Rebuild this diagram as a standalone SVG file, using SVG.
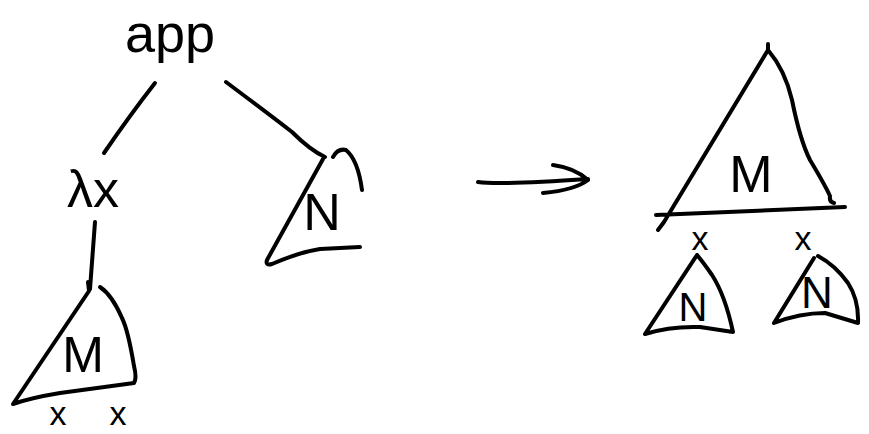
<svg xmlns="http://www.w3.org/2000/svg" width="869" height="434" viewBox="0 0 869 434">
<style>
.s{fill:none;stroke:#000;stroke-width:4;stroke-linecap:round;stroke-linejoin:round}
.t{font-family:"Liberation Sans","DejaVu Sans",sans-serif;fill:#000;text-anchor:middle}
</style>
<rect width="869" height="434" fill="#fff"/>
<g id="app"><text class="t" x="170" y="52" font-size="54">app</text></g>
<g id="lambda"><text class="t" x="93" y="207" font-size="52">λx</text></g>
<g id="M-left">
<path class="s" d="M89,291 L88,282 M89,291 L13,404 Q30,398 60,393 L134,383 Q137,378 134,366 Q128,330 122,318 Q112,295 100,287"/>
<text class="t" x="83" y="372" font-size="50">M</text>
<text class="t" x="58" y="425" font-size="34">x</text>
<text class="t" x="118" y="425" font-size="34">x</text>
</g>
<g id="N-left">
<path class="s" d="M323,159 L267,260 Q265,266 272,264 Q300,252 320,249 L360,247 M333,157 Q338,148 346,150 Q358,160 362,190"/>
<text class="t" x="322" y="230" font-size="52">N</text>
</g>
<g id="M-right">
<path class="s" d="M768,44 L768,50 L664,222 L658,230 M768,50 Q785,70 792,100 Q800,140 810,160 Q825,185 830,196 Q829,202 834,203 M656,215 L845,207"/>
<text class="t" x="751" y="192" font-size="52">M</text>
<text class="t" x="700" y="250" font-size="34">x</text>
<text class="t" x="803" y="250" font-size="34">x</text>
</g>
<g id="N-bottom-left">
<path class="s" d="M697,255 L645,334 Q670,326 700,327 L733,332 Q725,295 712,275 Q703,262 697,255"/>
<text class="t" x="693" y="321" font-size="40">N</text>
</g>
<g id="N-bottom-right">
<path class="s" d="M814,258 L774,323 Q800,313 825,313 L858,323 Q859,300 848,283 Q835,265 818,256"/>
<text class="t" x="817" y="308" font-size="44">N</text>
</g>
<g id="connectors">
<path class="s" d="M155,83 Q130,115 104,153"/>
<path class="s" d="M226,82 Q270,115 292,132 Q310,150 325,157"/>
<path class="s" d="M95,222 L90,289"/>
<path class="s" d="M478,182 Q500,185 588,179 M553,165 Q575,168 588,180 Q575,190 543,193"/>
</g>
</svg>
